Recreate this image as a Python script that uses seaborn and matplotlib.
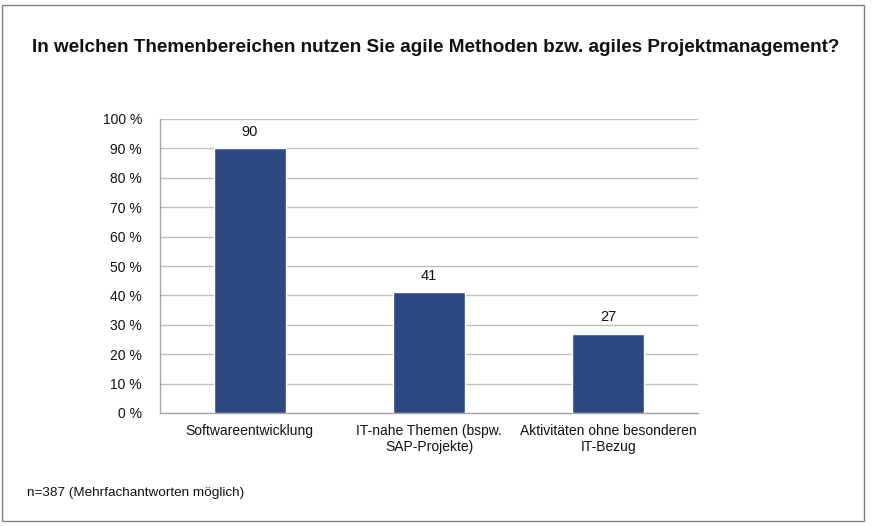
import matplotlib
matplotlib.use('Agg')
import matplotlib.pyplot as plt
import matplotlib.patches as mpatches
import seaborn as sns
import pandas as pd

# Daten
kategorien = ['Softwareentwicklung',
              'IT-nahe Themen (bspw.\nSAP-Projekte)',
              'Aktivitäten ohne besonderen\nIT-Bezug']
werte = [90, 41, 27]
y_ticks = list(range(0, 101, 10))
titel = 'In welchen Themenbereichen nutzen Sie agile Methoden bzw. agiles Projektmanagement?'
fussnote = 'n=387 (Mehrfachantworten möglich)'

sns.set_style('white')
plt.rcParams['font.family'] = ['Liberation Sans', 'DejaVu Sans']

df = pd.DataFrame({'kategorie': kategorien, 'wert': werte})

fig = plt.figure(figsize=(8.72, 5.26), dpi=100)
ax = fig.add_axes([160 / 872, 113 / 526, 538 / 872, 294 / 526])

sns.barplot(data=df, x='kategorie', y='wert', order=kategorien,
            color='#2E4882', saturation=1, width=0.4, ax=ax, zorder=3)

ax.set_ylim(0, 100)
ax.set_xlim(-0.5, 2.5)
ax.set_yticks(y_ticks)
ax.set_yticklabels([f'{v} %' for v in y_ticks], fontsize=10)
ax.yaxis.grid(True, color='#BFBFBF', linewidth=1, zorder=0)
ax.set_xlabel('')
ax.set_ylabel('')

# Achsen
for s in ['top', 'right']:
    ax.spines[s].set_visible(False)
for s in ['left', 'bottom']:
    ax.spines[s].set_color('#A6A6A6')
    ax.spines[s].set_linewidth(1)
ax.tick_params(axis='y', length=5, color='#A6A6A6', width=1, pad=8, labelcolor='#111111')
ax.tick_params(axis='x', which='major', length=0, pad=8, labelsize=10, labelcolor='#111111')
ax.set_xticks([-0.5, 0.5, 1.5, 2.5], minor=True)
ax.tick_params(axis='x', which='minor', length=5, color='#A6A6A6', width=1)
for lbl in ax.get_xticklabels():
    lbl.set_horizontalalignment('center')
    lbl.set_multialignment('center')

# Werte über den Balken
for c in ax.containers:
    ax.bar_label(c, labels=[str(v) for v in werte], padding=7, fontsize=10.5,
                 color='#111111')

fig.text(0.5, 1 - 47 / 526, titel, ha='center', va='center',
         fontsize=13.6, fontweight='bold', color='#111111')
fig.text(27 / 872, 1 - 493 / 526, fussnote, ha='left', va='center',
         fontsize=9.7, color='#111111')

# Rahmen
fig.patches.append(mpatches.Rectangle((2 / 872, 1 - 521 / 526), 862 / 872, 516 / 526,
                                      transform=fig.transFigure, fill=False,
                                      edgecolor='#808080', linewidth=1))

fig.savefig('out.png', dpi=100)
